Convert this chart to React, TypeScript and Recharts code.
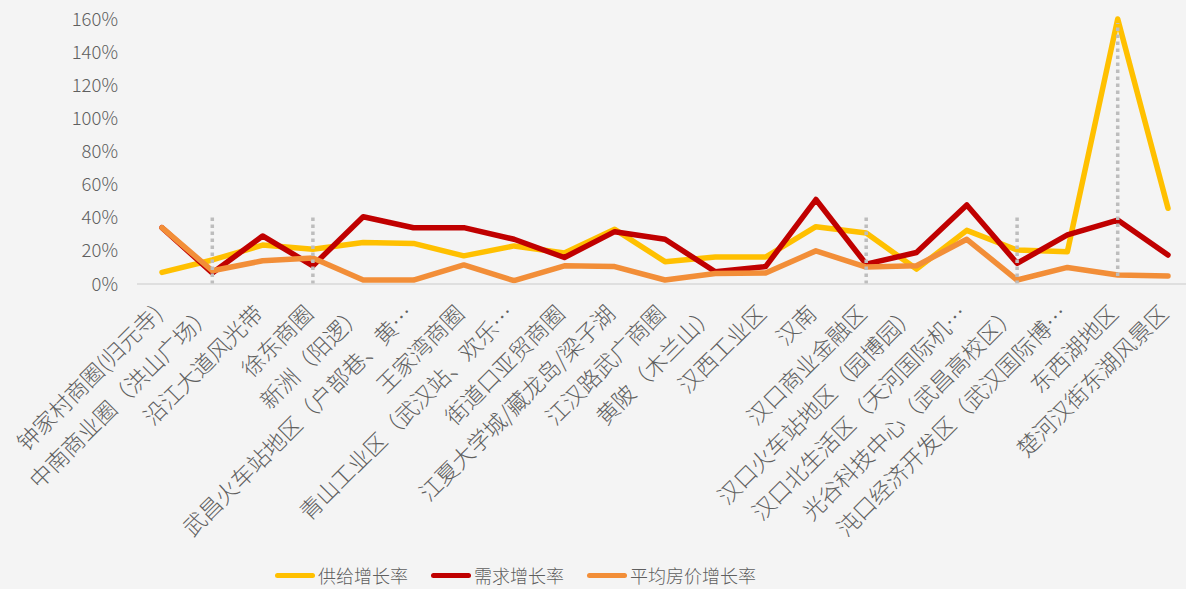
import { LineChart, Line, XAxis, YAxis, Legend, ReferenceLine } from "recharts";

const categories = [
  "钟家村商圈(归元寺)",
  "中南商业圈（洪山广场）",
  "沿江大道风光带",
  "徐东商圈",
  "新洲（阳逻）",
  "武昌火车站地区（户部巷、黄…",
  "王家湾商圈",
  "青山工业区（武汉站、欢乐…",
  "街道口亚贸商圈",
  "江夏大学城/藏龙岛/梁子湖",
  "江汉路武广商圈",
  "黄陂（木兰山）",
  "汉西工业区",
  "汉南",
  "汉口商业金融区",
  "汉口火车站地区（园博园）",
  "汉口北生活区（天河国际机…",
  "光谷科技中心（武昌高校区）",
  "沌口经济开发区（武汉国际博…",
  "东西湖地区",
  "楚河汉街东湖风景区",
];

const supply = [7, 14.5, 23.5, 21, 25, 24.5, 17, 23, 18.7, 33, 13.5, 16.3, 16.3, 34.6, 30.8, 9, 32.4, 20.5, 19.5, 160, 45.7];
const demand = [34, 6.6, 29, 11, 40.6, 34, 34, 27, 16, 31.6, 27, 7.4, 10.5, 51, 12, 19, 47.7, 12.5, 29.6, 38.6, 17.5];
const price = [34, 8, 14, 15.7, 2.4, 2.4, 11.5, 2, 11, 10.5, 2.4, 6.3, 6.6, 20, 10.2, 11, 27, 2.4, 10, 5.4, 4.8];

const yTicks = [0, 20, 40, 60, 80, 100, 120, 140, 160];

// grey dotted markers: category, bottom value, top value
const markerCats = ["中南商业圈（洪山广场）", "徐东商圈", "汉口商业金融区", "光谷科技中心（武昌高校区）", "东西湖地区"];
const markerFrom = [0, 0, 0, 0, 4.8];
const markerTo = [41, 41, 41, 41, 157.6];

const seriesNames = ["供给增长率", "需求增长率", "平均房价增长率"];
const seriesColors = ["#FFC000", "#C00000", "#F28E38"];

const data = categories.map((name, i) => ({
  name,
  supply: supply[i],
  demand: demand[i],
  price: price[i],
}));

const FONT = '"Noto Sans CJK SC", "Noto Sans", sans-serif';
const TEXT = "#5f5f5f";

const AngledTick = (props: any) => {
  const { x, y, payload } = props;
  return (
    <g transform={`translate(${x + 2},${y + 31})`}>
      <text
        x={0}
        y={0}
        textAnchor="end"
        transform="rotate(-45)"
        fill={TEXT}
        fontSize={22.5}
        fontWeight={300}
        fontFamily={FONT}
      >
        {payload.value}
      </text>
    </g>
  );
};

const LegendBox = () => (
  <div style={{ display: "flex", alignItems: "center", paddingLeft: 275, height: 28, fontFamily: FONT }}>
    {seriesNames.map((n, i) => (
      <div key={n} style={{ display: "flex", alignItems: "center", marginRight: 23 }}>
        <div style={{ width: 40, height: 5, borderRadius: 3, background: seriesColors[i], marginRight: 3 }} />
        <span style={{ fontSize: 18, fontWeight: 300, color: TEXT }}>{n}</span>
      </div>
    ))}
  </div>
);

export default function App() {
  return (
    <div style={{ position: "fixed", left: 0, top: 0, width: 1186, height: 589, background: "#F4F4F4" }}>
      <LineChart width={1186} height={589} data={data} margin={{ top: 19, right: 0, bottom: 0, left: 0 }}>
        <XAxis
          dataKey="name"
          interval={0}
          padding={{ left: 25, right: 18 }}
          height={277}
          tickLine={false}
          tickSize={0}
          tickMargin={0}
          stroke="#D9D9D9"
          strokeWidth={1.5}
          tick={<AngledTick />}
        />
        <YAxis
          width={137}
          domain={[0, 160]}
          ticks={yTicks}
          axisLine={false}
          tickLine={false}
          tickMargin={13}
          tickFormatter={(v: number) => `${v}%`}
          tick={{ fill: TEXT, fontSize: 18.5, fontWeight: 300, fontFamily: FONT }}
        />
        <Line dataKey="supply" name={seriesNames[0]} stroke={seriesColors[0]} strokeWidth={5.5} dot={false} strokeLinecap="round" strokeLinejoin="round" isAnimationActive={false} />
        <Line dataKey="demand" name={seriesNames[1]} stroke={seriesColors[1]} strokeWidth={5.5} dot={false} strokeLinecap="round" strokeLinejoin="round" isAnimationActive={false} />
        <Line dataKey="price" name={seriesNames[2]} stroke={seriesColors[2]} strokeWidth={5.5} dot={false} strokeLinecap="round" strokeLinejoin="round" isAnimationActive={false} />
        {markerCats.map((c, i) => (
          <ReferenceLine
            key={c}
            segment={[{ x: c, y: markerFrom[i] }, { x: c, y: markerTo[i] }]}
            stroke="#BDBDBD"
            strokeWidth={3.5}
            strokeDasharray="3.5 3.5"
          />
        ))}
        <Legend verticalAlign="bottom" height={28} content={<LegendBox />} />
      </LineChart>
    </div>
  );
}
